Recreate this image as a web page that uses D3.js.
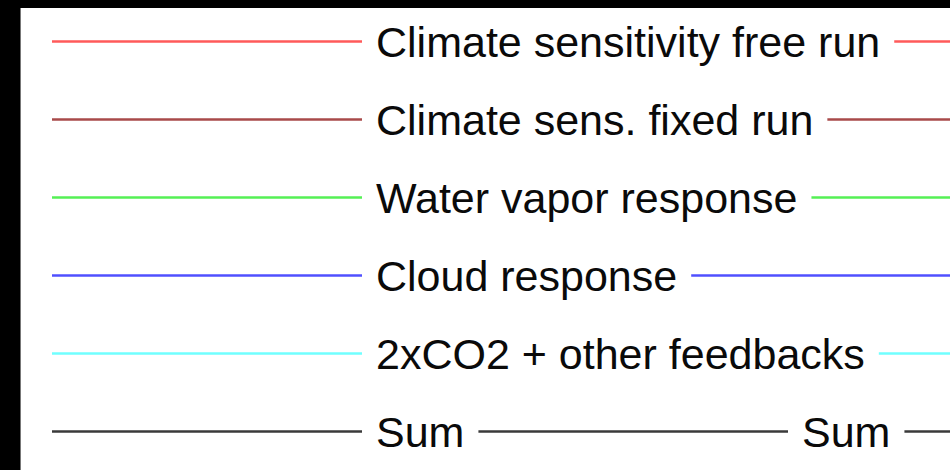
<!DOCTYPE html>
<html>
<head>
<meta charset="utf-8">
<script src="https://cdn.jsdelivr.net/npm/d3@7"></script>
<style>
  html, body { margin: 0; padding: 0; background: #000; }
  svg { display: block; }
</style>
</head>
<body>
<svg id="chart" width="950" height="470"></svg>
<script>
// Legend entries (row labels); the last row carries a second "Sum" label
const labels = [
  "Climate sensitivity free run",
  "Climate sens. fixed run",
  "Water vapor response",
  "Cloud response",
  "2xCO2 + other feedbacks",
  "Sum"
];
const extraLabels = ["", "", "", "", "", "Sum"];
const colors = ["#ff5a5a", "#a84a4a", "#55f055", "#5050ff", "#70ffff", "#3a3a3a"];

const W = 950, H = 470;
const svg = d3.select("#chart");

// black frame with white panel
svg.append("rect").attr("x", 0).attr("y", 0).attr("width", W).attr("height", H).attr("fill", "#000");
svg.append("rect").attr("x", 20).attr("y", 8).attr("width", W - 20).attr("height", H - 8).attr("fill", "#fff");
svg.append("line").attr("x1", 20.5).attr("x2", 20.5).attr("y1", 8).attr("y2", H).attr("stroke", "#777").attr("stroke-width", 1);

const y = d3.scalePoint().domain(d3.range(labels.length)).range([41.5, 431.5]);
const lineStart = 52, textX = 376, gap = 14, extraX = 802;
const font = "'Liberation Sans', Arial, Helvetica, sans-serif", fontSize = 43;

const rows = svg.selectAll("g.row").data(labels).join("g").attr("class", "row")
  .attr("transform", (d, i) => `translate(0,${y(i)})`);

rows.each(function(d, i) {
  const g = d3.select(this);
  const segs = [];
  const t = g.append("text").attr("x", textX).attr("y", 0)
    .attr("dy", "0.36em")
    .attr("font-family", font)
    .attr("font-size", fontSize).attr("fill", "#0a0a0a").text(d);
  const w = t.node().getComputedTextLength();
  segs.push([lineStart, textX - gap]);
  let next = textX + w + gap;
  if (extraLabels[i]) {
    const t2 = g.append("text").attr("x", extraX).attr("y", 0)
      .attr("dy", "0.36em")
      .attr("font-family", font)
      .attr("font-size", fontSize).attr("fill", "#0a0a0a").text(extraLabels[i]);
    const w2 = t2.node().getComputedTextLength();
    segs.push([next, extraX - gap]);
    next = extraX + w2 + gap;
  }
  segs.push([next, W + 10]);
  g.selectAll("line.seg").data(segs).join("line").attr("class", "seg")
    .attr("x1", s => s[0]).attr("x2", s => s[1])
    .attr("y1", 0).attr("y2", 0)
    .attr("stroke", colors[i]).attr("stroke-width", 2.5);
});
</script>
</body>
</html>
